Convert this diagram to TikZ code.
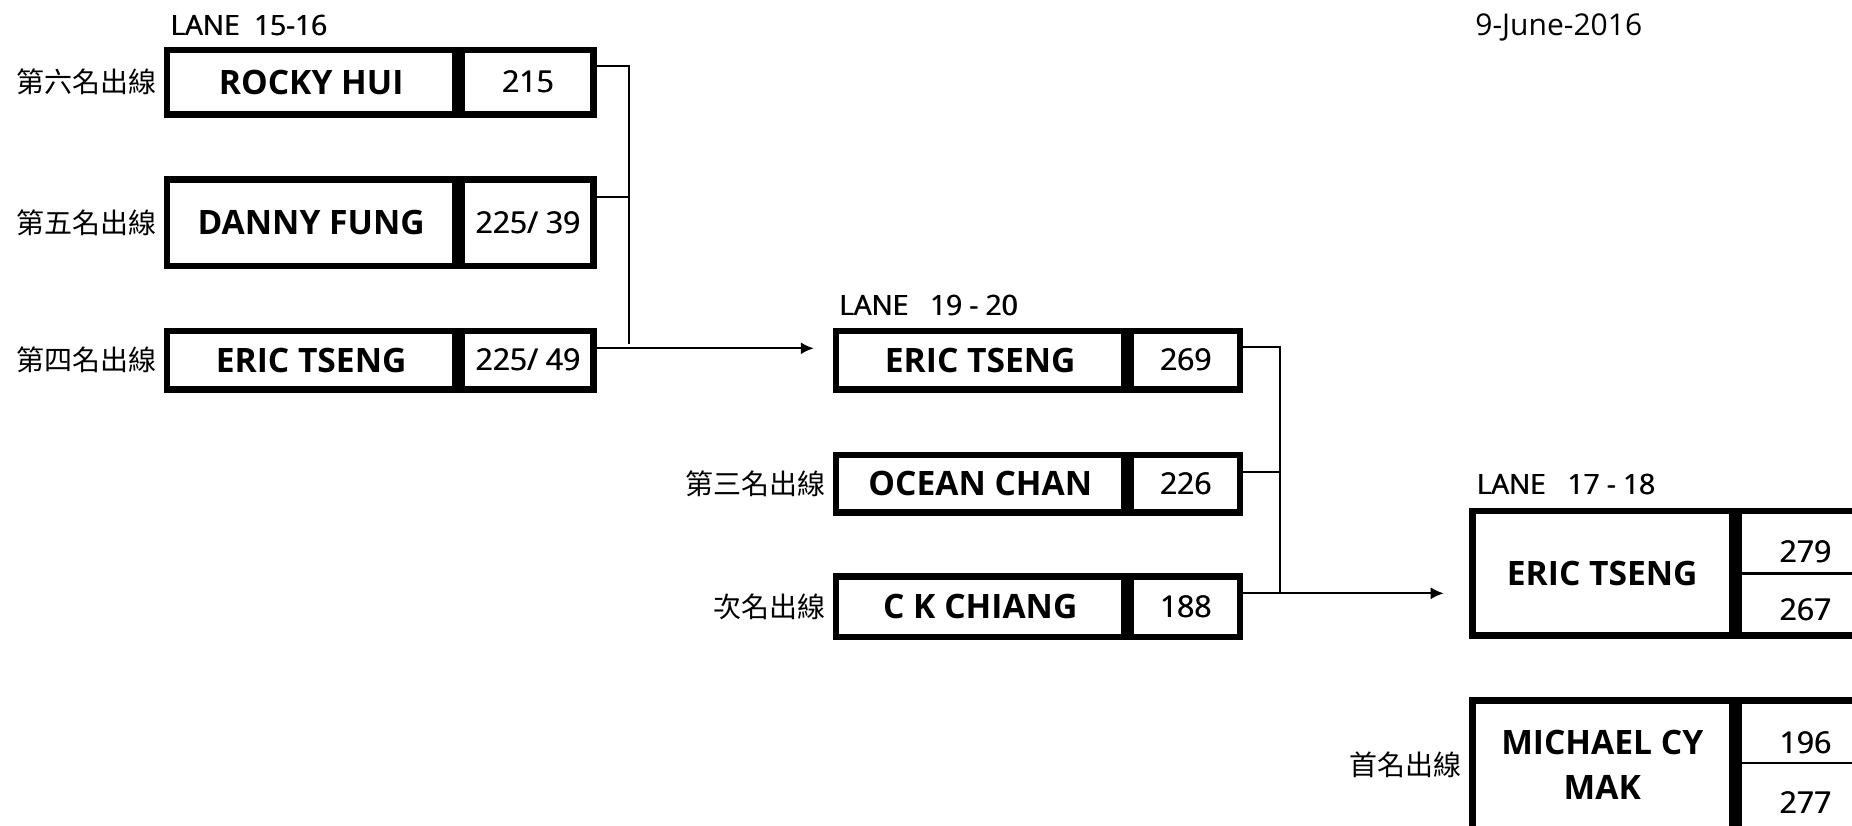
\documentclass[tikz,border=0pt]{standalone}
\usepackage{fontspec}
\setmainfont{Open Sans}
\newfontfamily\cjkfont{Noto Sans CJK TC}
\usetikzlibrary{arrows.meta,calc}
% slightly heavier print for scores and lane titles
\newcommand\semib[1]{\leavevmode\rlap{\hspace{0.4pt}#1}#1}

\begin{document}
\begin{tikzpicture}[x=0.5pt,y=-0.5pt,
    cell/.style={draw,line width=3.25pt,inner sep=0pt,anchor=north west},
    namecell/.style={cell,minimum width=144.3pt,align=center,
        font=\fontsize{16.8}{22.5}\selectfont\bfseries},
    scorecell/.style={cell,font=\fontsize{15}{18}\selectfont},
    score/.style={inner sep=0pt,font=\fontsize{15}{18}\selectfont},
    wire/.style={line width=1pt},
    tip/.style={wire,-{Latex[length=6.5pt,width=6pt]}},
    rank/.style={anchor=east,inner sep=0pt,xshift=-3.5pt,
        font=\cjkfont\fontsize{14}{16}\selectfont},
    lane/.style={anchor=base west,inner sep=0pt,
        font=\fontsize{14}{17}\selectfont}]

    \useasboundingbox (0,0) rectangle (1852,825);
    \clip (0,0) rectangle (1852,825);

    % first round, lane 15-16
    \node[namecell,minimum height=32.25pt] (n1) at (163.6,46.5) {ROCKY HUI};
    \node[scorecell,minimum width=65.7pt,minimum height=32.25pt] (s1) at (n1.north east) {\semib{215}};
    \node[namecell,minimum height=43.25pt] (n2) at (163.6,176) {DANNY FUNG};
    \node[scorecell,minimum width=65.7pt,minimum height=43.25pt] (s2) at (n2.north east) {\semib{225/ 39}};
    \node[namecell,minimum height=29.25pt] (n3) at (163.6,327.5) {ERIC TSENG};
    \node[scorecell,minimum width=65.7pt,minimum height=29.25pt] (s3) at (n3.north east) {\semib{225/ 49}};

    \node[rank] (r6) at (n1.west) {第六名出線};
    \node[rank] (r5) at (n2.west) {第五名出線};
    \node[rank] (r4) at (n3.west) {第四名出線};
    \node[lane] (lane1) at ([shift={(3.2pt,5.75pt)}]n1.north west) {\semib{LANE\ \ 15-16}};

    % second round, lane 19-20
    \node[namecell,minimum height=29.25pt] (nA) at (832.7,327.5) {ERIC TSENG};
    \node[scorecell,minimum width=54.45pt,minimum height=29.25pt] (sA) at (nA.north east) {\semib{269}};
    \node[namecell,minimum height=28.75pt] (nB) at (832.7,451.5) {OCEAN CHAN};
    \node[scorecell,minimum width=54.45pt,minimum height=28.75pt] (sB) at (nB.north east) {\semib{226}};
    \node[namecell,minimum height=30.15pt] (nC) at (832.7,573.2) {C K CHIANG};
    \node[scorecell,minimum width=54.45pt,minimum height=30.15pt] (sC) at (nC.north east) {\semib{188}};

    \node[rank] (r3) at (nB.west) {第三名出線};
    \node[rank] (r2) at (nC.west) {次名出線};
    \node[lane] (lane2) at ([shift={(3pt,6.25pt)}]nA.north west) {\semib{LANE\ \ \ 19 - 20}};

    % final, lane 17-18
    \node[namecell,minimum width=129.7pt,minimum height=62.25pt] (f1) at (1469.3,507.5) {ERIC TSENG};
    \node[cell,minimum width=66.65pt,minimum height=62.25pt] (g1) at (f1.north east) {};
    \node[namecell,minimum width=129.7pt,minimum height=65pt] (f2) at (1469.3,697) {MICHAEL CY\\MAK};
    \node[cell,minimum width=66.65pt,minimum height=65pt] (g2) at (f2.north east) {};
    \draw[line width=1.2pt] (g1.west |- 0,573.5) -- (g1.east |- 0,573.5);
    \draw[line width=1.2pt] (g2.west |- 0,763) -- (g2.east |- 0,763);
    \node[score] (g1a) at (g1.north |- 0,551.7) {\semib{279}};
    \node[score] (g1b) at (g1.north |- 0,610) {\semib{267}};
    \node[score] (g2a) at (g2.north |- 0,743) {\semib{196}};
    \node[score] (g2b) at (g2.north |- 0,803) {\semib{277}};

    \node[rank] (r1) at (f2.west) {首名出線};
    \node[lane] (lane3) at ([shift={(3.4pt,6.5pt)}]f1.north west) {\semib{LANE\ \ \ 17 - 18}};

    \node[anchor=base west,inner sep=0pt,font=\fontsize{15}{18}\selectfont] (date) at (1475,35) {9-June-2016};

    % brackets
    \coordinate (j1) at (629.4,65.7);
    \coordinate (j2) at (629.4,196.7);
    \coordinate (j3) at (629.4,344);
    \draw[wire] (s1.east |- j1) -- (j1) -- (j3);
    \draw[wire] (s2.east |- j2) -- (j2);
    \draw[tip] (s3.east |- 0,348.3) -- ([xshift=-9.45pt]nA.west |- 0,348.3);

    \coordinate (k1) at (1280.2,346.7);
    \coordinate (k2) at (1280.2,472.3);
    \coordinate (k3) at (1280.2,593.3);
    \draw[wire] (sA.east |- k1) -- (k1) -- (k3);
    \draw[wire] (sB.east |- k2) -- (k2);
    \draw[tip] (sC.east |- k3) -- ([xshift=-12.8pt]f1.west |- k3);
\end{tikzpicture}
\end{document}
